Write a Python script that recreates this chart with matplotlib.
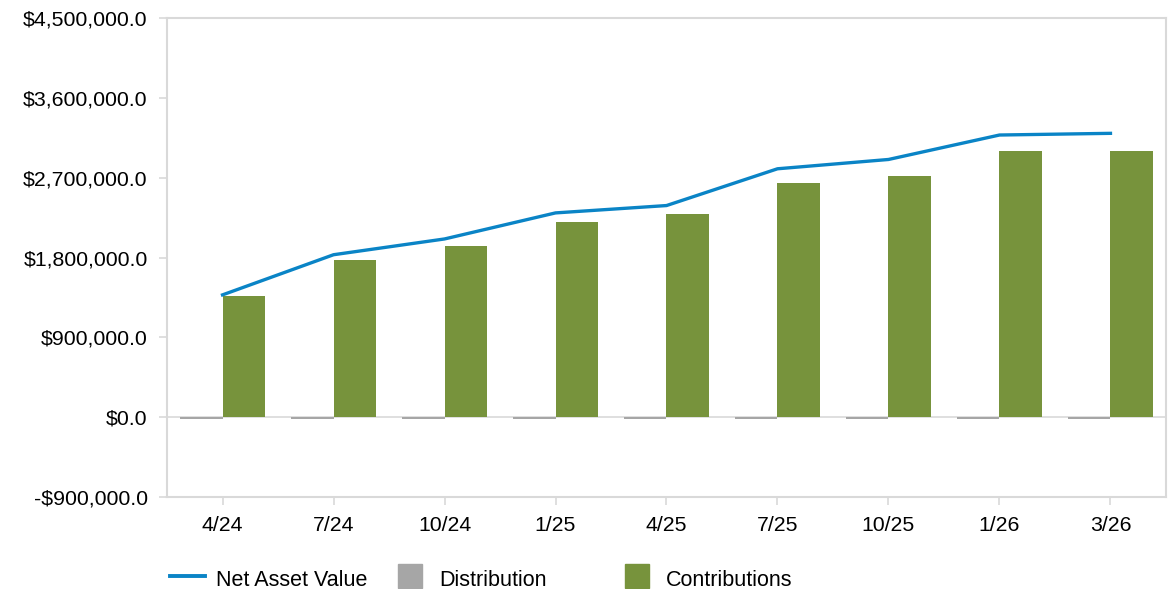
import matplotlib.pyplot as plt
import numpy as np
from matplotlib.lines import Line2D
from matplotlib.ticker import FuncFormatter

plt.rcParams["font.family"] = ["Liberation Sans", "DejaVu Sans"]

labels = ["4/24", "7/24", "10/24", "1/25", "4/25", "7/25", "10/25", "1/26", "3/26"]
nav = [1381000, 1834000, 2012000, 2306000, 2389000, 2804000, 2909000, 3185000, 3204000]
distribution = [-18000] * 9
contributions = [1370000, 1777000, 1936000, 2208000, 2298000, 2638000, 2728000, 3000000, 3000000]

nav_color = "#0a84c6"
dist_color = "#a6a6a6"
contrib_color = "#77933c"
frame_color = "#d9d9d9"


def money(v, _pos):
    if v < 0:
        return f"-${abs(v):,.1f}"
    return f"${v:,.1f}"


def main() -> None:
    fig = plt.figure(figsize=(11.73, 5.89), dpi=100)
    ax = fig.add_axes([0.1424, 0.1562, 0.994 - 0.1424, 0.9686 - 0.1562])

    x = np.arange(len(labels))
    w = 0.38
    ax.bar(x - w / 2, distribution, width=w, color=dist_color, zorder=2)
    ax.bar(x + w / 2, contributions, width=w, color=contrib_color, zorder=2)
    ax.plot(x, nav, color=nav_color, linewidth=2.4, zorder=3)
    ax.axhline(0, color=frame_color, linewidth=1.2, zorder=1)

    ax.set_xlim(-0.5, len(labels) - 0.5)
    ax.set_ylim(-900000, 4500000)
    ax.set_yticks(np.arange(-900000, 4500001, 900000))
    ax.yaxis.set_major_formatter(FuncFormatter(money))
    ax.set_xticks(x)
    ax.set_xticklabels(labels)

    for s in ax.spines.values():
        s.set_color(frame_color)
        s.set_linewidth(1.5)
    ax.tick_params(axis="both", colors=frame_color, labelcolor="black",
                   labelsize=15.3, length=6, width=1.2)
    ax.tick_params(axis="x", pad=8)
    ax.tick_params(axis="y", pad=8)

    entries = [
        (Line2D([], [], color=nav_color, linewidth=2.8), "Net Asset Value", 0.145),
        (Line2D([], [], color=dist_color, marker="s", linestyle="none", markersize=17),
         "Distribution", 0.335),
        (Line2D([], [], color=contrib_color, marker="s", linestyle="none", markersize=17),
         "Contributions", 0.5286),
    ]
    for handle, text, xpos in entries:
        fig.legend([handle], [text], loc="center left", bbox_to_anchor=(xpos, 0.017),
                   frameon=False, fontsize=15.5, handlelength=1.6, handleheight=1.2,
                   handletextpad=0.55, borderpad=0, borderaxespad=0)

    fig.savefig("out.png", dpi=100)
    plt.close(fig)


if __name__ == "__main__":
    main()
